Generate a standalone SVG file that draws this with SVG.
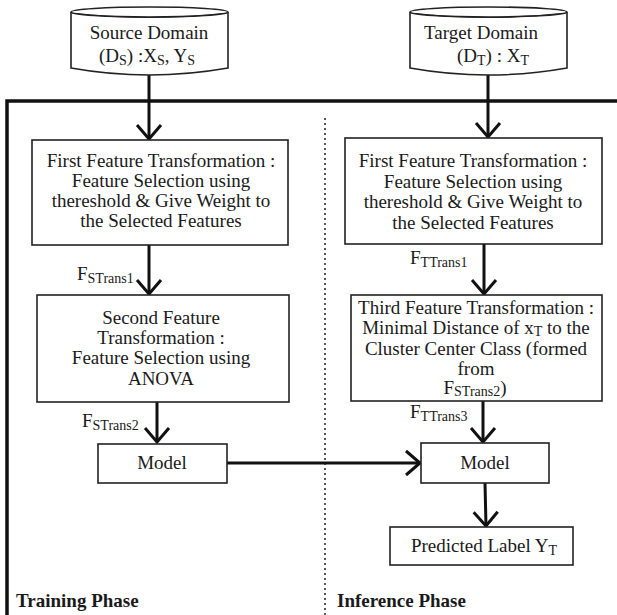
<svg xmlns="http://www.w3.org/2000/svg" width="617" height="615" viewBox="0 0 617 615">
<defs>
<style>
text{font-family:"Liberation Serif","Times New Roman",serif;font-size:19px;fill:#1a1a1a}
.c{text-anchor:middle}
.b{font-weight:bold}
.s{font-size:14px}
.box{fill:#fff;stroke:#222;stroke-width:1.6}
.cyl{fill:#fff;stroke:#222;stroke-width:1.6}
.con{fill:none;stroke:#111;stroke-width:3}
.frame{fill:none;stroke:#111;stroke-width:3.5}
.dot{fill:none;stroke:#222;stroke-width:1.5;stroke-dasharray:2 3}
</style>
<marker id="arr" markerUnits="userSpaceOnUse" markerWidth="30" markerHeight="30" viewBox="-16 -15 20 30" refX="0" refY="0" orient="auto">
<path d="M-14,-12 L0,0 L-14,12" fill="none" stroke="#111" stroke-width="3"/>
</marker>
</defs>
<rect width="617" height="615" fill="#fff"/>

<g id="frame">
<path class="frame" d="M617,101 L7,101 L7,615"/>
<path class="dot" d="M325,118 L325,615"/>
<text class="b" x="16" y="607">Training Phase</text>
<text class="b" x="337" y="607">Inference Phase</text>
</g>

<g id="connectors">
<path class="con" d="M149,74 L149,139" marker-end="url(#arr)"/>
<path class="con" d="M488,74 L488,137" marker-end="url(#arr)"/>
<path class="con" d="M149,245 L149,294" marker-end="url(#arr)"/>
<path class="con" d="M484,244 L484,294" marker-end="url(#arr)"/>
<path class="con" d="M157,402 L157,442" marker-end="url(#arr)"/>
<path class="con" d="M483,401 L483,442" marker-end="url(#arr)"/>
<path class="con" d="M227,463 L420,463" marker-end="url(#arr)"/>
<path class="con" d="M485,483 L486,526" marker-end="url(#arr)"/>
<text x="77" y="280">F<tspan class="s" dy="3">STrans1</tspan></text>
<text x="410" y="264">F<tspan class="s" dy="3">TTrans1</tspan></text>
<text x="82" y="427">F<tspan class="s" dy="3">STrans2</tspan></text>
<text x="410" y="418">F<tspan class="s" dy="3">TTrans3</tspan></text>
</g>

<g id="source">
<path class="cyl" d="M71,12 L71,68 Q149,82 228,68 L228,12"/>
<ellipse class="cyl" cx="149.5" cy="12" rx="78.5" ry="5"/>
<path fill="none" stroke="#222" stroke-width="1.2" d="M72,13 Q149.5,22 227,13"/>
<text class="c" x="149" y="39">Source Domain</text>
<text class="c" x="147" y="62">(D<tspan class="s" dy="3">S</tspan><tspan dy="-3">) :X</tspan><tspan class="s" dy="3">S</tspan><tspan dy="-3">, Y</tspan><tspan class="s" dy="3">S</tspan></text>
</g>

<g id="target">
<path class="cyl" d="M410,12 L410,68 Q488,82 567,68 L567,12"/>
<ellipse class="cyl" cx="488.5" cy="12" rx="78.5" ry="5"/>
<path fill="none" stroke="#222" stroke-width="1.2" d="M411,13 Q488.5,22 566,13"/>
<text class="c" x="481" y="39">Target Domain</text>
<text class="c" x="493" y="62">(D<tspan class="s" dy="3">T</tspan><tspan dy="-3">) : X</tspan><tspan class="s" dy="3">T</tspan></text>
</g>

<g id="s-first">
<rect class="box" x="32" y="140" width="256" height="105"/>
<text class="c" x="161" y="167">First Feature Transformation :</text>
<text class="c" x="161" y="187">Feature Selection using</text>
<text class="c" x="161" y="207">thereshold &amp; Give Weight to</text>
<text class="c" x="161" y="227">the Selected Features</text>
</g>

<g id="t-first">
<rect class="box" x="345" y="138" width="257" height="106"/>
<text class="c" x="473" y="167">First Feature Transformation :</text>
<text class="c" x="473" y="188">Feature Selection using</text>
<text class="c" x="473" y="208">thereshold &amp; Give Weight to</text>
<text class="c" x="473" y="229">the Selected Features</text>
</g>

<g id="s-second">
<rect class="box" x="37" y="295" width="252" height="107"/>
<text class="c" x="161" y="324">Second Feature</text>
<text class="c" x="161" y="344">Transformation :</text>
<text class="c" x="161" y="364">Feature Selection using</text>
<text class="c" x="161" y="385">ANOVA</text>
</g>

<g id="t-third">
<rect class="box" x="351" y="295" width="251" height="106"/>
<text class="c" x="476" y="314">Third Feature Transformation :</text>
<text class="c" x="476" y="334">Minimal Distance of x<tspan class="s" dy="2">T</tspan><tspan dy="-2"> to the</tspan></text>
<text class="c" x="476" y="355">Cluster Center Class (formed</text>
<text class="c" x="476" y="375">from</text>
<text class="c" x="475" y="394">F<tspan class="s" dy="2">STrans2</tspan><tspan dy="-2">)</tspan></text>
</g>

<g id="s-model">
<rect class="box" x="98" y="444" width="129" height="39"/>
<text class="c" x="162" y="469">Model</text>
</g>

<g id="t-model">
<rect class="box" x="421" y="443" width="128" height="40"/>
<text class="c" x="485" y="469">Model</text>
</g>

<g id="predicted">
<rect class="box" x="390" y="527" width="183" height="38"/>
<text class="c" x="484" y="552">Predicted Label Y<tspan class="s" dy="3">T</tspan></text>
</g>
</svg>
